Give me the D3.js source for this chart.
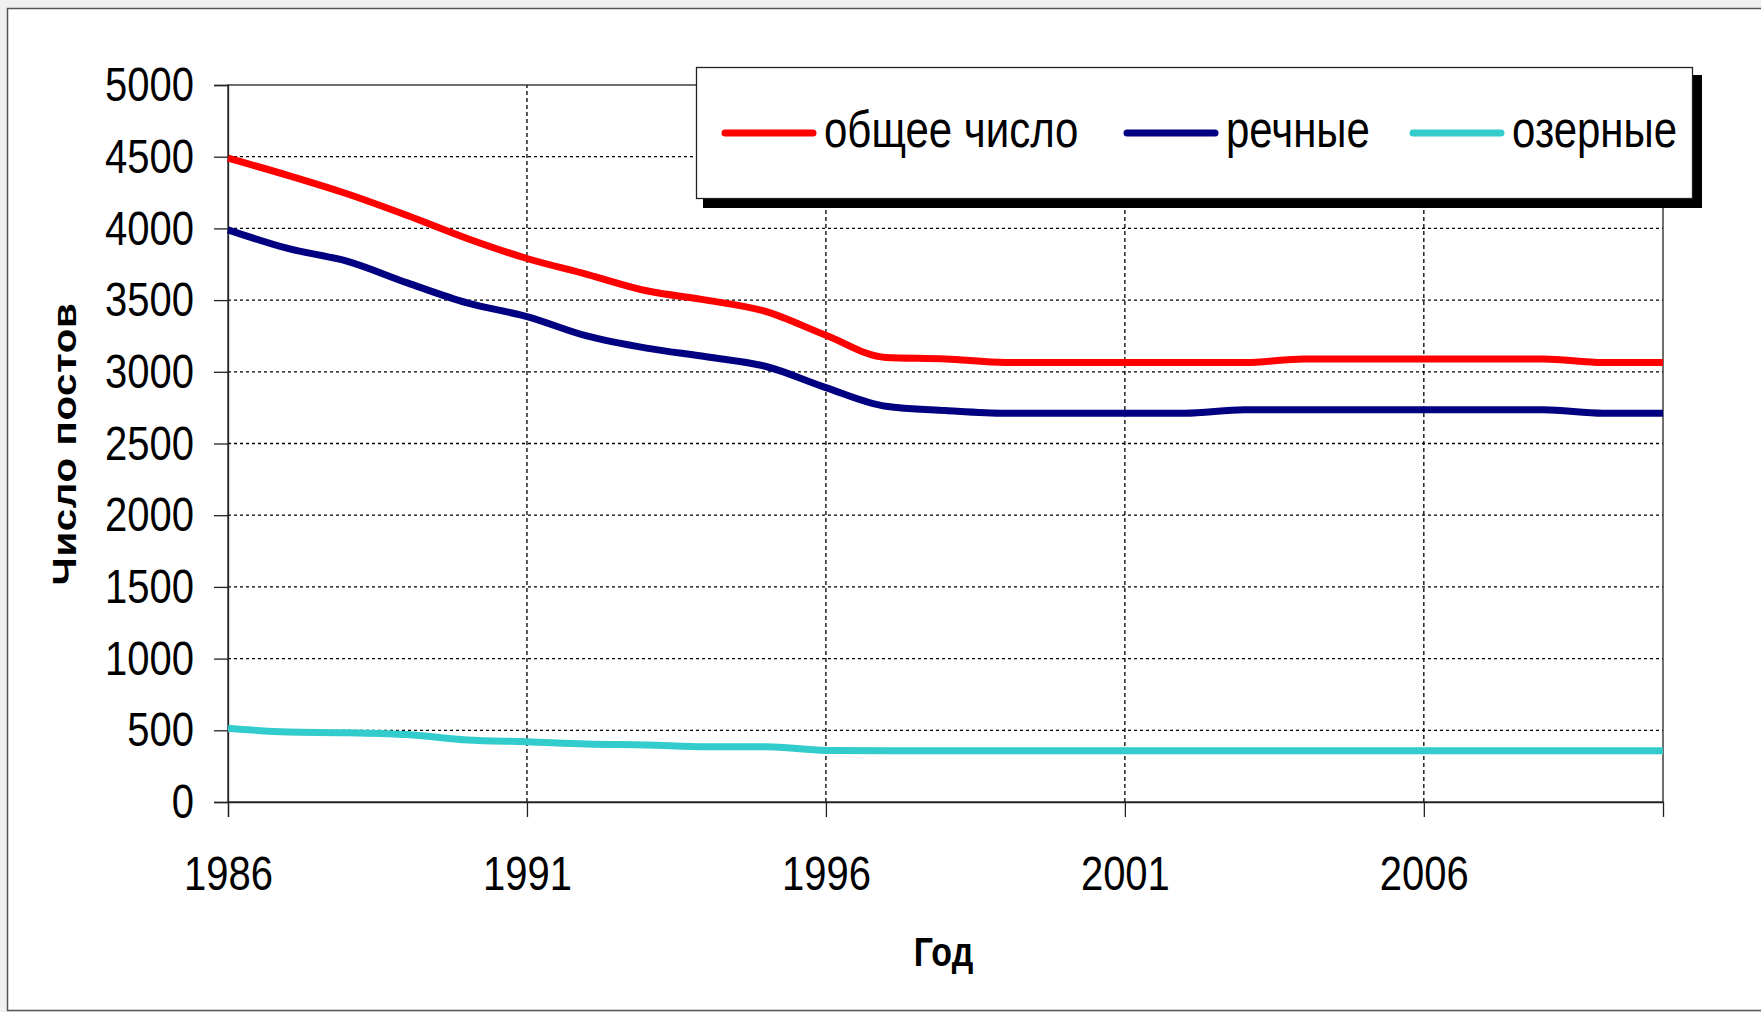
<!DOCTYPE html>
<html>
<head>
<meta charset="utf-8">
<script src="https://cdn.jsdelivr.net/npm/d3@7"></script>
<style>
  html, body { margin: 0; padding: 0; background: #f0f0f0; }
  svg { display: block; }
</style>
</head>
<body>
<div id="chart"></div>
<script>
const years = d3.range(1986, 2011);
const totalPosts = [4490, 4370, 4240, 4090, 3930, 3790, 3680, 3565, 3500, 3420, 3255, 3100, 3090, 3065, 3065, 3065, 3065, 3065, 3090, 3090, 3090, 3090, 3090, 3065, 3065];
const riverPosts = [3990, 3860, 3770, 3620, 3480, 3385, 3250, 3165, 3105, 3037, 2890, 2760, 2730, 2711, 2711, 2711, 2711, 2735, 2735, 2735, 2735, 2735, 2735, 2711, 2711];
const lakePosts = [515, 488, 483, 470, 432, 420, 405, 398, 386, 386, 360, 358, 358, 358, 358, 358, 358, 358, 358, 358, 358, 358, 358, 358, 358];
const seriesNames = ['общее число', 'речные', 'озерные'];
const yTicks = d3.range(0, 5001, 500);
const xTicks = [1986, 1991, 1996, 2001, 2006];
const yTitle = 'Число постов';
const xTitle = 'Год';

const colors = ['#ff0000', '#000080', '#33cccc'];
const width = 1761;
const height = 1012;
const margin = { top: 85, right: 98, bottom: 210, left: 228 };
const stretch = 1.22; // text in the source is stretched vertically
const font = '"Liberation Sans", Arial, sans-serif';

const svg = d3.select('#chart')
  .append('svg')
  .attr('width', width)
  .attr('height', height);

// outer frame
svg.append('rect')
  .attr('x', 7.5).attr('y', 8.5)
  .attr('width', 1760).attr('height', 1002)
  .style('fill', '#fff')
  .style('stroke', '#555')
  .style('stroke-width', 1.5);

const x = d3.scaleLinear()
  .domain([1986, 2010])
  .range([margin.left, width - margin.right]);

const y = d3.scaleLinear()
  .domain([0, 5000])
  .range([height - margin.bottom, margin.top]);

const [x0, x1] = x.range();
const [yb, yt] = y.range();

// grid
svg.append('g').selectAll('line')
  .data(yTicks.filter(d => d > 0 && d < 5000))
  .join('line')
  .attr('x1', x0).attr('x2', x1)
  .attr('y1', d => y(d)).attr('y2', d => y(d))
  .style('stroke', '#000')
  .style('stroke-width', 1.3)
  .style('stroke-dasharray', '3,3');

svg.append('g').selectAll('line')
  .data(xTicks.filter(d => d > 1986))
  .join('line')
  .attr('x1', d => x(d)).attr('x2', d => x(d))
  .attr('y1', yb).attr('y2', yt)
  .style('stroke', '#000')
  .style('stroke-width', 1.3)
  .style('stroke-dasharray', '4,3');

// plot area border
svg.append('rect')
  .attr('x', x0).attr('y', yt)
  .attr('width', x1 - x0).attr('height', yb - yt)
  .style('fill', 'none')
  .style('stroke', '#222')
  .style('stroke-width', 1.3);

// axes
const yAxis = svg.append('g')
  .attr('transform', `translate(${x0},0)`)
  .call(d3.axisLeft(y).tickValues(yTicks).tickSize(14).tickPadding(20).tickFormat(d3.format('d')));

yAxis.select('.domain').style('stroke', '#222').style('stroke-width', 1.3);
yAxis.selectAll('.tick line').style('stroke', '#222').style('stroke-width', 1.3);
yAxis.selectAll('.tick text')
  .attr('transform', `scale(1,${stretch})`)
  .style('font-family', font)
  .style('font-size', '40px')
  .style('fill', '#000');

const xAxis = svg.append('g')
  .attr('transform', `translate(0,${yb})`)
  .call(d3.axisBottom(x).tickValues(xTicks).tickSize(15).tickFormat(d3.format('d')));

xAxis.select('.domain').style('stroke', '#222').style('stroke-width', 1.3);
xAxis.selectAll('.tick line').style('stroke', '#222').style('stroke-width', 1.3);
xAxis.selectAll('.tick text')
  .attr('y', 72)
  .attr('dy', 0)
  .attr('transform', `scale(1,${stretch})`)
  .style('font-family', font)
  .style('font-size', '40px')
  .style('fill', '#000');

// axis titles
svg.append('g')
  .attr('transform', `translate(76,444) scale(1,${stretch})`)
  .append('text')
  .attr('transform', 'rotate(-90)')
  .attr('text-anchor', 'middle')
  .style('font-family', font)
  .style('font-weight', 'bold')
  .style('font-size', '33px')
  .style('letter-spacing', '0.5px')
  .text(yTitle);

svg.append('g')
  .attr('transform', `translate(943.5,966) scale(1,${stretch})`)
  .append('text')
  .attr('text-anchor', 'middle')
  .style('font-family', font)
  .style('font-weight', 'bold')
  .style('font-size', '34px')
  .text(xTitle);

// lines
const series = [totalPosts, riverPosts, lakePosts];
const line = d3.line()
  .x((d, i) => x(years[i]))
  .y(d => y(d))
  .curve(d3.curveMonotoneX);

svg.append('g').selectAll('path')
  .data(series)
  .join('path')
  .attr('d', line)
  .style('fill', 'none')
  .style('stroke', (d, i) => colors[i])
  .style('stroke-width', 7)
  .style('stroke-linejoin', 'round');

// legend
const legend = svg.append('g');
legend.append('rect')
  .attr('x', 703).attr('y', 75)
  .attr('width', 999).attr('height', 133)
  .style('fill', '#000');
legend.append('rect')
  .attr('x', 696.5).attr('y', 67.5)
  .attr('width', 996).attr('height', 131)
  .style('fill', '#fff')
  .style('stroke', '#222')
  .style('stroke-width', 1.3);

const legendX = [725, 1127, 1413];
const items = legend.selectAll('g.item')
  .data(seriesNames)
  .join('g')
  .attr('class', 'item')
  .attr('transform', (d, i) => `translate(${legendX[i]},0)`);

items.append('line')
  .attr('x1', 0).attr('x2', 88)
  .attr('y1', 133).attr('y2', 133)
  .style('stroke', (d, i) => colors[i])
  .style('stroke-width', 7)
  .style('stroke-linecap', 'round');

items.append('g')
  .attr('transform', `translate(99,147) scale(1,${stretch})`)
  .append('text')
  .style('font-family', font)
  .style('font-size', '42px')
  .style('fill', '#000')
  .text(d => d);
</script>
</body>
</html>
